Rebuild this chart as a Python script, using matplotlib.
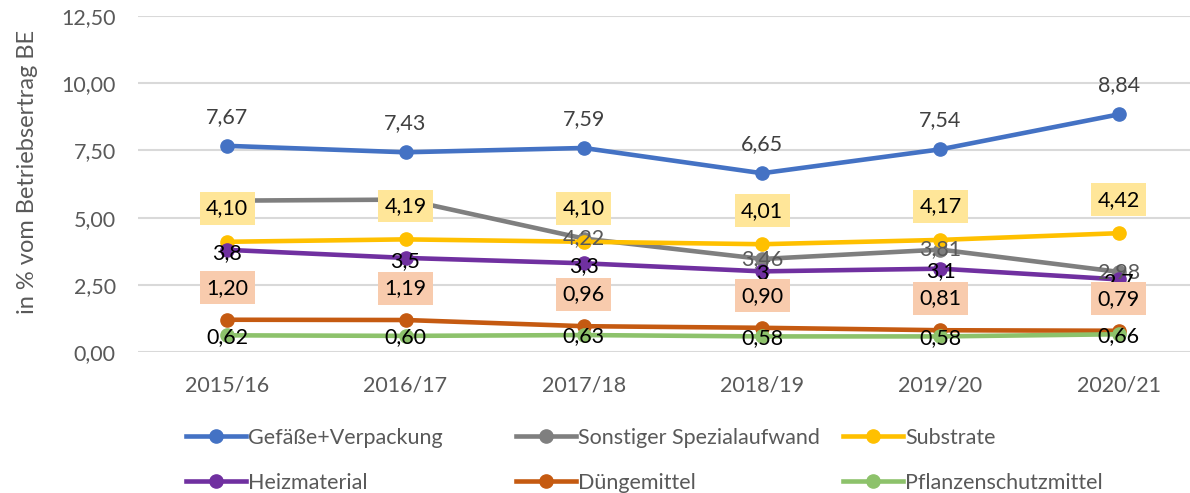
import numpy as np
import matplotlib.pyplot as plt
from matplotlib.lines import Line2D

plt.rcParams['font.family'] = ['Lato', 'DejaVu Sans']

years = ['2015/16', '2016/17', '2017/18', '2018/19', '2019/20', '2020/21']

gefaesse = [7.67, 7.43, 7.59, 6.65, 7.54, 8.84]
sonstiger = [5.63, 5.67, 4.22, 3.46, 3.81, 2.98]
substrate = [4.10, 4.19, 4.10, 4.01, 4.17, 4.42]
heizmaterial = [3.8, 3.5, 3.3, 3.0, 3.1, 2.7]
duenger = [1.20, 1.19, 0.96, 0.90, 0.81, 0.79]
pflanzenschutz = [0.62, 0.60, 0.63, 0.58, 0.58, 0.66]

# label text as printed in the chart (some series show only one decimal)
heiz_labels = ['3,8', '3,5', '3,3', '3', '3,1', '2,7']

series = [
    ('Gefäße+Verpackung', gefaesse, '#4472C4'),
    ('Sonstiger Spezialaufwand', sonstiger, '#7F7F7F'),
    ('Substrate', substrate, '#FFC000'),
    ('Heizmaterial', heizmaterial, '#7030A0'),
    ('Düngemittel', duenger, '#C55A11'),
    ('Pflanzenschutzmittel', pflanzenschutz, '#8DC26B'),
]

fig = plt.figure(figsize=(11.9, 4.93), dpi=100)
ax = fig.add_axes([138 / 1190, 1 - 352 / 493, 1070 / 1190, 336 / 493])

x = np.arange(len(years))
for name, vals, col in series:
    ax.plot(x, vals, color=col, lw=3.3, marker='o', ms=9.5, solid_capstyle='round', zorder=3)

def fmt(v):
    return f'{v:.2f}'.replace('.', ',')

lab_fs = 15.5
box = 'square,pad=0.3'
for i in x:
    ax.annotate(fmt(gefaesse[i]), (i, gefaesse[i]), xytext=(0, 21), textcoords='offset points',
                ha='center', va='center', fontsize=lab_fs, color='#404040', zorder=5)
    ax.annotate(fmt(sonstiger[i]), (i, sonstiger[i]), xytext=(0, 0), textcoords='offset points',
                ha='center', va='center', fontsize=lab_fs, color='#595959', zorder=4)
    ax.annotate(heiz_labels[i], (i, heizmaterial[i]), xytext=(0, -2), textcoords='offset points',
                ha='center', va='center', fontsize=lab_fs, color='black', zorder=5)
    ax.annotate(fmt(pflanzenschutz[i]), (i, pflanzenschutz[i]), xytext=(0, -1), textcoords='offset points',
                ha='center', va='center', fontsize=lab_fs, color='black', zorder=5)
    ax.annotate(fmt(substrate[i]), (i, substrate[i]), xytext=(0, 24), textcoords='offset points',
                ha='center', va='center', fontsize=lab_fs, color='black', zorder=6,
                bbox=dict(boxstyle=box, fc='#FFE699', ec='none'))
    ax.annotate(fmt(duenger[i]), (i, duenger[i]), xytext=(0, 23), textcoords='offset points',
                ha='center', va='center', fontsize=lab_fs, color='black', zorder=6,
                bbox=dict(boxstyle=box, fc='#F8CBAD', ec='none'))

ax.set_xlim(-0.5, 5.5)
ax.set_ylim(0, 12.5)
ax.set_yticks(np.arange(0, 12.51, 2.5))
ax.set_yticklabels([fmt(v) for v in np.arange(0, 12.51, 2.5)])
ax.set_xticks(x)
ax.set_xticklabels(years)
ax.tick_params(axis='both', length=0, labelsize=15.5, labelcolor='#595959')
ax.tick_params(axis='y', pad=16)
ax.tick_params(axis='x', pad=17)
ax.grid(axis='y', color='#D9D9D9', lw=1.5)
ax.set_axisbelow(True)
for s in ax.spines.values():
    s.set_visible(False)

fig.text(28 / 1190, 1 - 172 / 493, 'in % vom Betriebsertrag BE', rotation=90,
         ha='center', va='center', fontsize=17, color='#595959')

# legend: three columns at fixed positions, row-major order like the original
cols = [(186, [0, 3]), (516, [1, 4]), (843, [2, 5])]
for xpos, idx in cols:
    handles = [Line2D([], [], color=series[k][2], lw=3.3, marker='o', ms=9.5) for k in idx]
    labels = [series[k][0] for k in idx]
    leg = fig.legend(handles, labels, loc='upper left', bbox_to_anchor=(xpos / 1190, 1 - 428 / 493),
                     frameon=False, fontsize=15.5, handlelength=2.8, handletextpad=0.1,
                     labelspacing=1.15, borderaxespad=0, borderpad=0, labelcolor='#595959')

fig.savefig('out.png', dpi=100)
